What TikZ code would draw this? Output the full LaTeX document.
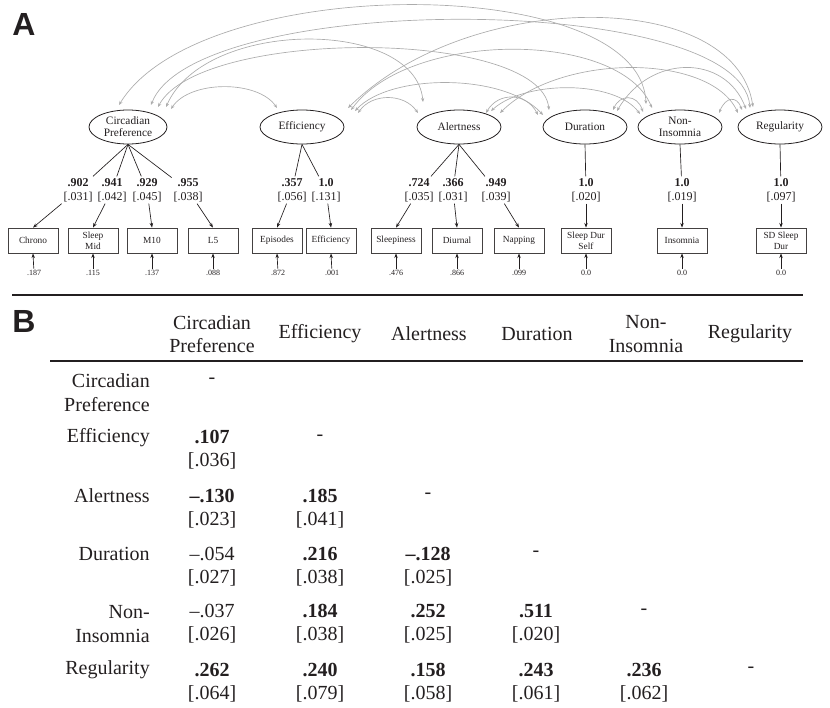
\documentclass[tikz,border=0pt]{standalone}
\usepackage{fontspec}
\setmainfont{Liberation Serif}
\newfontfamily\hsans{Liberation Sans}
\usetikzlibrary{arrows.meta,shapes.geometric}
\definecolor{arcgray}{RGB}{172,172,172}
\definecolor{ink}{RGB}{35,31,32}
\begin{document}
\begin{tikzpicture}[x=0.75pt,y=-0.75pt,
  lat/.style={ellipse, draw=ink, line width=0.6pt, minimum width=63pt, minimum height=25.5pt, inner sep=0pt, align=center, text=ink, font=\fontsize{8.5}{9}\selectfont},
  obs/.style={rectangle, draw=ink!85, line width=0.6pt, minimum width=37.5pt, minimum height=18.75pt, inner sep=1pt, align=center, text=ink, font=\fontsize{7}{8.5}\selectfont},
  load/.style={align=center, inner sep=1.2pt, text=ink, font=\fontsize{9}{10.5}\selectfont},
  errv/.style={inner sep=1pt, text=ink, font=\fontsize{6}{6.5}\selectfont},
  ld/.style={draw=ink, line width=0.5pt},
  ldar/.style={ld, -{Stealth[length=3.5pt,width=2.6pt]}},
  cov/.style={draw=arcgray, line width=0.5pt, {Stealth[length=3pt,width=2.4pt]}-{Stealth[length=3pt,width=2.4pt]}},
  tab/.style={align=center, inner sep=0pt, text=ink, font=\fontsize{15}{17.5}\selectfont},
  panel/.style={inner sep=0pt, anchor=base west, text=ink, font=\hsans\bfseries\fontsize{24}{24}\selectfont}
]
\useasboundingbox (0,0) rectangle (830,707);

% ---------- Panel A ----------
\node[panel] (pA) at (12,35) {A};

% latent factors
\node[lat, minimum width=58.5pt] (circ) at (128,127) {Circadian\\Preference};
\node[lat] (eff) at (302,127) {Efficiency};
\node[lat] (alert) at (459,127) {Alertness};
\node[lat] (dur) at (585,127) {Duration};
\node[lat] (nonins) at (680,127) {Non-\\Insomnia};
\node[lat] (reg) at (780,127) {Regularity};

% observed indicators
\node[obs] (bChrono) at (33,240.5) {Chrono};
\node[obs] (bMid) at (93,240.5) {Sleep\\Mid};
\node[obs] (bM10) at (152,240.5) {M10};
\node[obs] (bL5) at (213,240.5) {L5};
\node[obs] (bEpi) at (277,240.5) {Episodes};
\node[obs] (bEff) at (331,240.5) {Efficiency};
\node[obs] (bSlp) at (396,240.5) {Sleepiness};
\node[obs] (bDiu) at (457,240.5) {Diurnal};
\node[obs] (bNap) at (519,240.5) {Napping};
\node[obs] (bSDS) at (586,240.5) {Sleep Dur\\Self};
\node[obs] (bIns) at (682,240.5) {Insomnia};
\node[obs] (bSDD) at (781,240.5) {SD Sleep\\Dur};

% loadings
\node[load] (l1) at (78,190) {\textbf{.902}\\{[.031]}};
\node[load] (l2) at (112,190) {\textbf{.941}\\{[.042]}};
\node[load] (l3) at (147,190) {\textbf{.929}\\{[.045]}};
\node[load] (l4) at (188,190) {\textbf{.955}\\{[.038]}};
\node[load] (l5) at (292,190) {\textbf{.357}\\{[.056]}};
\node[load] (l6) at (326,190) {\textbf{1.0}\\{[.131]}};
\node[load] (l7) at (419,190) {\textbf{.724}\\{[.035]}};
\node[load] (l8) at (453,190) {\textbf{.366}\\{[.031]}};
\node[load] (l9) at (496,190) {\textbf{.949}\\{[.039]}};
\node[load] (l10) at (586,190) {\textbf{1.0}\\{[.020]}};
\node[load] (l11) at (682,190) {\textbf{1.0}\\{[.019]}};
\node[load] (l12) at (781,190) {\textbf{1.0}\\{[.097]}};

\draw[ld] (circ.south) -- (l1); \draw[ldar] (l1) -- (bChrono.north);
\draw[ld] (circ.south) -- (l2); \draw[ldar] (l2) -- (bMid.north);
\draw[ld] (circ.south) -- (l3); \draw[ldar] (l3) -- (bM10.north);
\draw[ld] (circ.south) -- (l4); \draw[ldar] (l4) -- (bL5.north);
\draw[ld] (eff.south) -- (l5); \draw[ldar] (l5) -- (bEpi.north);
\draw[ld] (eff.south) -- (l6); \draw[ldar] (l6) -- (bEff.north);
\draw[ld] (alert.south) -- (l7); \draw[ldar] (l7) -- (bSlp.north);
\draw[ld] (alert.south) -- (l8); \draw[ldar] (l8) -- (bDiu.north);
\draw[ld] (alert.south) -- (l9); \draw[ldar] (l9) -- (bNap.north);
\draw[ld] (dur.south) -- (l10); \draw[ldar] (l10) -- (bSDS.north);
\draw[ld] (nonins.south) -- (l11); \draw[ldar] (l11) -- (bIns.north);
\draw[ld] (reg.south) -- (l12); \draw[ldar] (l12) -- (bSDD.north);

% residual variances
\node[errv] (e1) at (34,273) {.187};
\node[errv] (e2) at (93,273) {.115};
\node[errv] (e3) at (152,273) {.137};
\node[errv] (e4) at (213,273) {.088};
\node[errv] (e5) at (278,273) {.872};
\node[errv] (e6) at (332,273) {.001};
\node[errv] (e7) at (396,273) {.476};
\node[errv] (e8) at (457,273) {.866};
\node[errv] (e9) at (519,273) {.099};
\node[errv] (e10) at (586,273) {0.0};
\node[errv] (e11) at (682,273) {0.0};
\node[errv] (e12) at (781,273) {0.0};
\draw[ldar] (e1) -- (bChrono.south);
\draw[ldar] (e2) -- (bMid.south);
\draw[ldar] (e3) -- (bM10.south);
\draw[ldar] (e4) -- (bL5.south);
\draw[ldar] (e5) -- (bEpi.south);
\draw[ldar] (e6) -- (bEff.south);
\draw[ldar] (e7) -- (bSlp.south);
\draw[ldar] (e8) -- (bDiu.south);
\draw[ldar] (e9) -- (bNap.south);
\draw[ldar] (e10) -- (bSDS.south);
\draw[ldar] (e11) -- (bIns.south);
\draw[ldar] (e12) -- (bSDD.south);

% covariance arc ends
\coordinate (cNI) at (119,105);
\coordinate (cRE) at (151,105);
\coordinate (cDU) at (158,107);
\coordinate (cAL) at (166,107);
\coordinate (cEF) at (171,109);
\coordinate (eCI) at (277,108);
\coordinate (eRE) at (348,108);
\coordinate (eNI) at (351,110);
\coordinate (eDU) at (355,111);
\coordinate (eAL) at (358,113);
\coordinate (aEF) at (418,113);
\coordinate (aCI) at (423,102);
\coordinate (aDU) at (486,113);
\coordinate (aNI) at (491,111);
\coordinate (aRE) at (500,113);
\coordinate (dAL) at (538,115);
\coordinate (dEF) at (543,115);
\coordinate (dCI) at (549,110);
\coordinate (dNI) at (613,110);
\coordinate (dRE) at (617,111);
\coordinate (nAL) at (640,114);
\coordinate (nDU) at (643,112);
\coordinate (nCI) at (646,104);
\coordinate (nEF) at (652,108);
\coordinate (nRE) at (719,113);
\coordinate (rAL) at (738,113);
\coordinate (rNI) at (742,110);
\coordinate (rDU) at (746,109);
\coordinate (rCI) at (750,108);
\coordinate (rEF) at (753,107);

% covariance arcs
\draw[cov] (cEF) .. controls (190,80) and (258,80) .. (eCI);
\draw[cov] (cAL) .. controls (205,18) and (415,18) .. (aCI);
\draw[cov] (cDU) .. controls (200,28) and (540,28) .. (dCI);
\draw[cov] (cNI) .. controls (200,-28) and (640,-28) .. (nCI);
\draw[cov] (cRE) .. controls (195,-9) and (740,-9) .. (rCI);
\draw[cov] (eAL) .. controls (372,93) and (404,93) .. (aEF);
\draw[cov] (eDU) .. controls (390,73) and (505,73) .. (dEF);
\draw[cov] (eNI) .. controls (410,30) and (620,30) .. (nEF);
\draw[cov] (eRE) .. controls (470,-12) and (735,-12) .. (rEF);
\draw[cov] (aDU) .. controls (498,92) and (526,92) .. (dAL);
\draw[cov] (aNI) .. controls (525,80) and (615,80) .. (nAL);
\draw[cov] (aRE) .. controls (560,53) and (710,53) .. (rAL);
\draw[cov] (dNI) .. controls (620,94) and (637,94) .. (nDU);
\draw[cov] (dRE) .. controls (650,54) and (725,54) .. (rDU);
\draw[cov] (nRE) .. controls (726,96) and (737,96) .. (rNI);

% separator
\draw[ink, line width=1pt] (12,295) -- (803,295);

% ---------- Panel B ----------
\node[panel] (pB) at (12,332) {B};

\node[tab] (h1) at (212,334) {Circadian\\Preference};
\node[tab] (h2) at (320,334) {Efficiency};
\node[tab] (h3) at (429,334) {Alertness};
\node[tab] (h4) at (537,334) {Duration};
\node[tab] (h5) at (646,334) {Non-\\Insomnia};
\node[tab] (h6) at (750,334) {Regularity};
\draw[ink, line width=0.8pt] (50,361) -- (803,361);

\node[tab, anchor=east, align=right] (r1) at (150,392.5) {Circadian\\Preference};
\node[tab, anchor=east] (r2) at (150,438) {Efficiency};
\node[tab, anchor=east] (r3) at (150,496) {Alertness};
\node[tab, anchor=east] (r4) at (150,554) {Duration};
\node[tab, anchor=east, align=right] (r5) at (150,624) {Non-\\Insomnia};
\node[tab, anchor=east] (r6) at (150,670) {Regularity};

\node[tab] (d1) at (212,381) {-};
\node[tab] (d2) at (320,438) {-};
\node[tab] (d3) at (428,496) {-};
\node[tab] (d4) at (536,554) {-};
\node[tab] (d5) at (644,612) {-};
\node[tab] (d6) at (751,670) {-};

\node[tab] (c21) at (212,450) {\textbf{.107}\\{[.036]}};

\node[tab] (c31) at (212,508.5) {\textbf{–.130}\\{[.023]}};
\node[tab] (c32) at (320,508.5) {\textbf{.185}\\{[.041]}};

\node[tab] (c41) at (212,566.5) {–.054\\{[.027]}};
\node[tab] (c42) at (320,566.5) {\textbf{.216}\\{[.038]}};
\node[tab] (c43) at (428,566.5) {\textbf{–.128}\\{[.025]}};

\node[tab] (c51) at (212,624) {–.037\\{[.026]}};
\node[tab] (c52) at (320,624) {\textbf{.184}\\{[.038]}};
\node[tab] (c53) at (428,624) {\textbf{.252}\\{[.025]}};
\node[tab] (c54) at (536,624) {\textbf{.511}\\{[.020]}};

\node[tab] (c61) at (212,682.5) {\textbf{.262}\\{[.064]}};
\node[tab] (c62) at (320,682.5) {\textbf{.240}\\{[.079]}};
\node[tab] (c63) at (428,682.5) {\textbf{.158}\\{[.058]}};
\node[tab] (c64) at (536,682.5) {\textbf{.243}\\{[.061]}};
\node[tab] (c65) at (644,682.5) {\textbf{.236}\\{[.062]}};
\end{tikzpicture}
\end{document}
